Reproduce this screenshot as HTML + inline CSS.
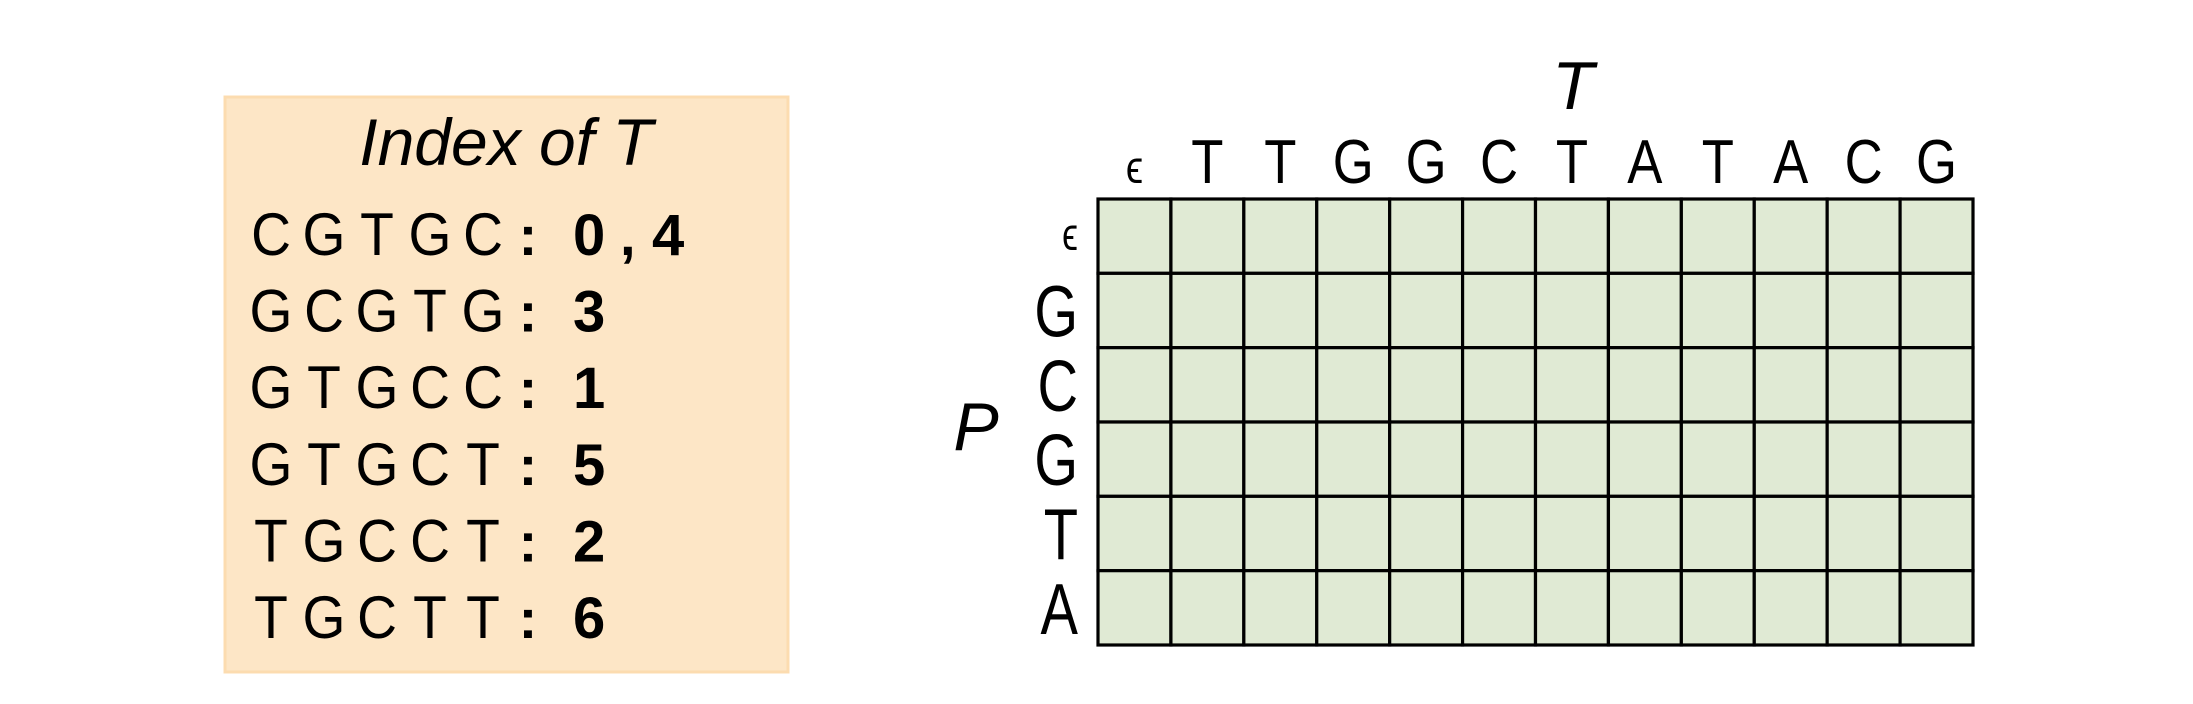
<!DOCTYPE html>
<html><head><meta charset="utf-8"><style>
html,body{margin:0;padding:0;background:#fff;}
svg{display:block;font-family:"Liberation Sans","DejaVu Sans",sans-serif;}
</style></head><body>
<svg id="fig" width="2193" height="704" viewBox="0 0 2193 704">
<g>
<rect x="225" y="97" width="563" height="575" fill="#fde6c6" stroke="#fcdcb0" stroke-width="3"/>
<text x="506" y="165" font-size="66" font-style="italic" text-anchor="middle" fill="#000">Index of T</text>
</g>
<g id="rows"></g>
<g id="grid"></g>
<text x="1573" y="109" font-size="68" font-style="italic" text-anchor="middle" fill="#000">T</text>
<text x="976" y="450" font-size="68" font-style="italic" text-anchor="middle" fill="#000">P</text>
</svg>
<script>
const kmers = ["CGTGC","GCGTG","GTGCC","GTGCT","TGCCT","TGCTT"];
const offsets = ["0,4","3","1","5","2","6"];
const tChars = ["ϵ","T","T","G","G","C","T","A","T","A","C","G"];
const pChars = ["ϵ","G","C","G","T","A"];
const NS="http://www.w3.org/2000/svg";
function mk(tag,attrs,parent){const e=document.createElementNS(NS,tag);for(const k in attrs)e.setAttribute(k,attrs[k]);parent.appendChild(e);return e;}
const rows=document.getElementById('rows');
const rowY=i=>255+i*76.6;
kmers.forEach((k,i)=>{
  const g=mk('g',{},rows);
  
  
  [...k].forEach((c,j)=>{
    const t=mk('text',{x:0,y:0,'font-size':60,'text-anchor':'middle',fill:'#000',transform:`translate(${253+j*53+18},${rowY(i)}) scale(0.92,1)`},g);
    t.textContent=c;
    
    
  });
  const colon=mk('text',{x:528,y:rowY(i),'font-size':56,'text-anchor':'middle',fill:'#000','font-weight':'bold'},g);
  colon.textContent=':';
  
  
  const parts=offsets[i].split(',');
  let x=573;
  parts.forEach((p,pi)=>{
    if(pi>0){const cm=mk('text',{x:x-2,y:rowY(i),'font-size':56,'font-weight':'bold',fill:'#000'},g);cm.textContent=',';
      
      
      x+=30;}
    const t=mk('text',{x:x,y:rowY(i),'font-size':58,'font-weight':'bold',fill:'#000'},g);
    t.textContent=p;
    
    
    x+=49;
  });
});
const grid=document.getElementById('grid');
const x0=1098,x1=1973,y0=199,y1=645;
const cw=(x1-x0)/tChars.length,rh=(y1-y0)/pChars.length;
const colX=j=>x0+j*cw, rowTop=i=>y0+i*rh;
pChars.forEach((p,i)=>{tChars.forEach((t,j)=>{
  const r=mk('rect',{x:colX(j),y:rowTop(i),width:cw,height:rh,fill:'#e0ead4',stroke:'#000','stroke-width':3.2},grid);
  
  
});});
tChars.forEach((t,j)=>{
  const e=t==='ϵ';
  const l=mk('text',{x:0,y:0,'font-size':e?46:62,'text-anchor':'middle',fill:'#000',transform:`translate(${colX(j)+cw/2},183) scale(0.85,1)`},grid);
  l.textContent=t;
  
  
});
pChars.forEach((p,i)=>{
  const e=p==='ϵ';
  const l=mk('text',{x:0,y:0,'font-size':e?46:72,'text-anchor':'end',fill:'#000',transform:`translate(1078,${rowTop(i)+rh/2+(e?14:26)}) scale(0.78,1)`},grid);
  l.textContent=p;
  
  
});
</script>
</body></html>
